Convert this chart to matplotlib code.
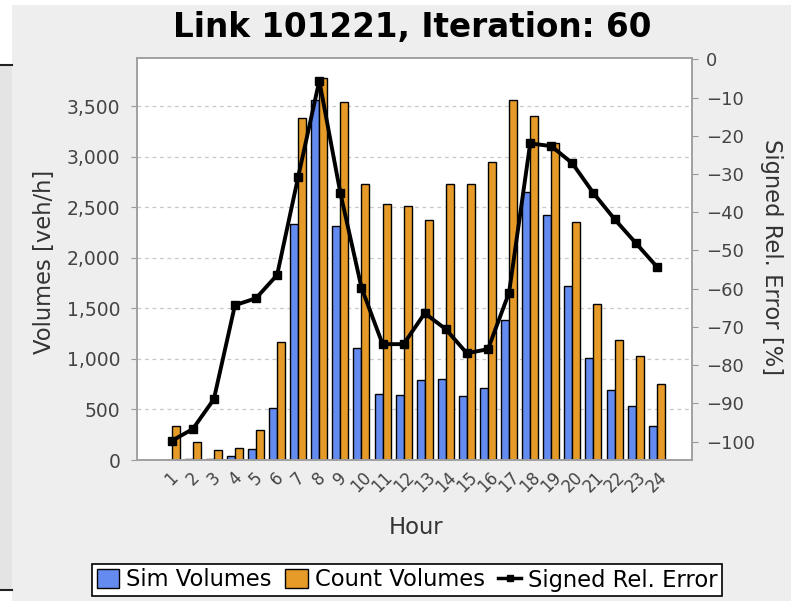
import matplotlib.pyplot as plt
import matplotlib.transforms as mtransforms
import numpy as np
from matplotlib.patches import Rectangle, Patch
from matplotlib.lines import Line2D
from matplotlib.ticker import FuncFormatter

# values
hours = list(range(1, 25))
sim_volumes = [0, 6, 12, 40, 112, 510, 2340, 3565, 2312, 1104, 658, 646,
               795, 797, 632, 711, 1388, 2653, 2424, 1718, 1010, 692, 537, 340]
count_volumes = [335, 178, 99, 116, 294, 1168, 3383, 3779, 3547, 2732, 2534, 2518,
                 2376, 2732, 2732, 2947, 3564, 3406, 3141, 2353, 1548, 1188, 1030, 750]
rel_error = [-99.8, -96.7, -88.9, -64.3, -62.5, -56.4, -30.7, -5.6, -35.0, -59.7, -74.5, -74.5,
             -66.4, -70.6, -76.9, -75.8, -61.0, -22.0, -22.7, -27.2, -35.0, -41.8, -48.0, -54.2]

BLUE = '#648cf0'
ORANGE = '#e69b28'
W, H = 791, 601

fig = plt.figure(figsize=(W / 100, H / 100), dpi=100, facecolor='white')

# grey chart panel and the bit of the window behind it on the left
fig.patches.append(Rectangle((12 / W, 0), 1 - 12 / W, (H - 5) / H, transform=fig.transFigure,
                             facecolor='#eeeeee', edgecolor='none', zorder=-10))
fig.patches.append(Rectangle((0, 1 - 590 / H), 12 / W, (590 - 65) / H, transform=fig.transFigure,
                             facecolor='#e4e4e4', edgecolor='none', zorder=-10))
for yy in (65, 590):
    fig.lines.append(Line2D([0, 12 / W], [1 - yy / H] * 2, transform=fig.transFigure,
                            color='#222222', lw=1.5, zorder=-5))

ax = fig.add_axes([137 / W, 1 - 460 / H, 555 / W, 402 / H])
ax.set_facecolor('white')

x = np.arange(len(hours))
w = 0.38
ax.bar(x - w / 2, sim_volumes, w, color=BLUE, edgecolor='black', linewidth=1, zorder=2)
ax.bar(x + w / 2, count_volumes, w, color=ORANGE, edgecolor='black', linewidth=1, zorder=2)

ax.set_xlim(-1.645, 24.674)
ax.set_ylim(0, 3980)
ax.set_yticks(range(0, 3501, 500))
ax.yaxis.set_major_formatter(FuncFormatter(lambda v, p: f'{int(v):,}'))
ax.yaxis.grid(True, linestyle=(0, (3, 3)), color='#c8c8c8', linewidth=0.9)
ax.set_axisbelow(True)
ax.set_xticks(x)
ax.set_xticklabels([str(h) for h in hours], rotation=45, ha='center', va='top')
shift = mtransforms.ScaledTranslation(4 / 100, 0, fig.dpi_scale_trans)
for lbl in ax.get_xticklabels():
    lbl.set_transform(lbl.get_transform() + shift)
ax.tick_params(axis='x', length=0, pad=6, labelsize=12, labelcolor='#444444')
ax.tick_params(axis='y', length=4, color='#999999', labelsize=13.5, pad=8, labelcolor='#444444')
for s in ax.spines.values():
    s.set_color('#a0a0a0')
    s.set_linewidth(1.2)

ax2 = ax.twinx()
ax2.plot(x, rel_error, color='black', linewidth=2.8, marker='s', markersize=5.5, zorder=3)
ax2.set_ylim(-104.8, 0.34)
ax2.set_yticks(range(-100, 1, 10))
ax2.tick_params(axis='y', length=4, color='#999999', labelsize=13, pad=6, labelcolor='#444444')
for s in ax2.spines.values():
    s.set_color('#a0a0a0')
    s.set_linewidth(1.2)

fig.text(412 / W, 1 - 27 / H, 'Link 101221, Iteration: 60', ha='center', va='center',
         fontsize=23.5, fontweight='bold')
fig.text(45 / W, 1 - 262 / H, 'Volumes [veh/h]', rotation=90, ha='center', va='center',
         fontsize=16.3, color='#333333')
fig.text(771 / W, 1 - 257 / H, 'Signed Rel. Error [%]', rotation=270, ha='center', va='center',
         fontsize=16.3, color='#333333')
fig.text(416 / W, 1 - 528 / H, 'Hour', ha='center', va='center', fontsize=16.3, color='#333333')

handles = [Patch(facecolor=BLUE, edgecolor='black'),
           Patch(facecolor=ORANGE, edgecolor='black'),
           Line2D([], [], color='black', linewidth=2.5, marker='s', markersize=4)]
leg = fig.legend(handles, ['Sim Volumes', 'Count Volumes', 'Signed Rel. Error'],
                 loc='center', bbox_to_anchor=(407 / W, 1 - 580 / H), ncol=3,
                 fontsize=16.3, frameon=True, fancybox=False, edgecolor='black',
                 framealpha=1, borderpad=0.2, handlelength=1.0, handleheight=0.9,
                 handletextpad=0.3, columnspacing=0.6, borderaxespad=0)
leg.get_frame().set_linewidth(1.2)

fig.savefig('out.png', dpi=100, facecolor=fig.get_facecolor())
